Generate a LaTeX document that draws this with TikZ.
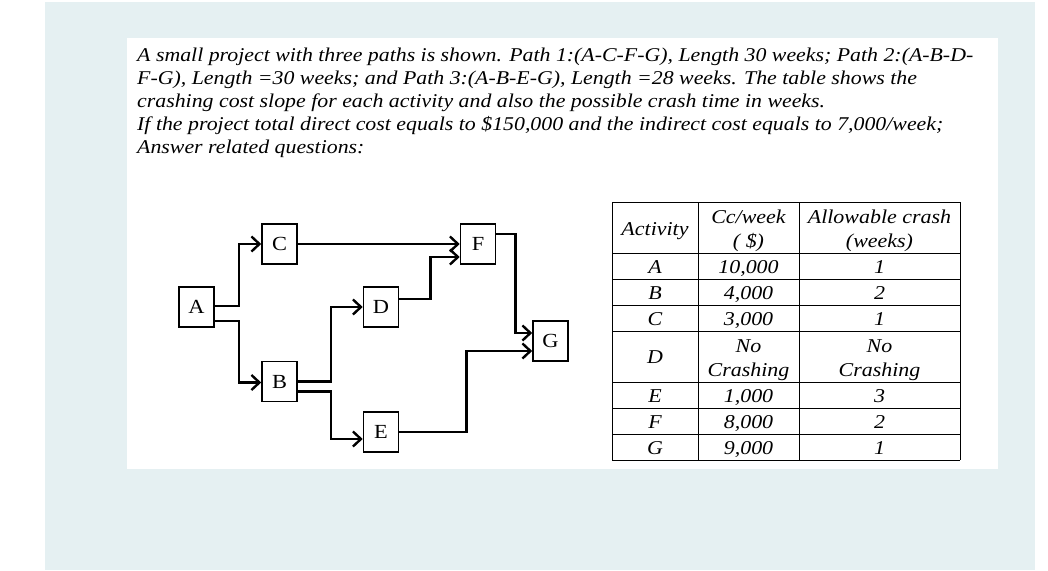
\documentclass[tikz,border=0pt]{standalone}
\usepackage{fontspec}
\setmainfont{Liberation Serif}[FakeStretch=1.12]
\usetikzlibrary{arrows.meta}
\definecolor{panelblue}{RGB}{229,240,242}
\begin{document}
\begin{tikzpicture}[x=1pt,y=-1pt,
 txt/.style={font=\fontsize{19.5}{23}\selectfont\itshape, inner sep=0pt, anchor=base west},
 cell/.style={font=\fontsize{19.6}{24}\selectfont\itshape, inner sep=0pt, anchor=base},
 act/.style={draw, line width=1.6pt, minimum width=35pt, minimum height=40pt, inner sep=0pt, font=\fontsize{20}{22}\selectfont},
 arr/.style={line width=2.6pt, -{Straight Barb[length=8pt,width=15pt,line width=2.4pt]}},
 grid/.style={line width=1pt}]
\useasboundingbox (0,0) rectangle (1048,570);
\fill[white] (0,0) rectangle (1048,570);
\fill[panelblue] (45,2) rectangle (1035,570);
\fill[white] (127,38) rectangle (998,469);
% text
\node[txt] (l1) at (137,61) {A small project with three paths is shown. Path 1:(A-C-F-G), Length 30 weeks; Path 2:(A-B-D-};
\node[txt] (l2) at (137,84) {F-G), Length =30 weeks; and Path 3:(A-B-E-G), Length =28 weeks. The table shows the};
\node[txt] (l3) at (137,107) {crashing cost slope for each activity and also the possible crash time in weeks.};
\node[txt] (l4) at (137,130) {If the project total direct cost equals to \$150,000 and the indirect cost equals to 7,000/week;};
\node[txt] (l5) at (137,153) {Answer related questions:};
% network
\node[act] (A) at (196.5,307) {A};
\node[act] (C) at (279.5,244) {C};
\node[act] (B) at (279.5,381.5) {B};
\node[act] (D) at (381,307) {D};
\node[act] (E) at (381,432) {E};
\node[act] (F) at (478,244) {F};
\node[act] (G) at (550.5,341) {G};
\draw[arr] ([yshift=1pt]A.east) -- ++(24,0) |- (C.west);
\draw[arr] ([yshift=-14pt]A.east) -- ++(24,0) |- ([yshift=-1pt]B.west);
\draw[arr] (C.east) -- (F.west);
\draw[arr] (B.east) -- ++(33,0) |- (D.west);
\draw[arr] ([yshift=-10pt]B.east) -- ++(33,0) |- ([yshift=-7pt]E.west);
\draw[arr] ([yshift=8pt]D.east) -- ++(31,0) |- ([yshift=-13pt]F.west);
\draw[arr] ([yshift=10pt]F.east) -- ++(19,0) |- ([yshift=8pt]G.west);
\draw[arr] (E.east) -- ++(67,0) |- ([yshift=-10pt]G.west);
% table grid
\foreach \yy in {202,253,279,305,331,382,408,434,460}
  \draw[grid] (612,\yy) -- (960,\yy);
\foreach \xx in {612,698,799,960}
  \draw[grid] (\xx,202) -- (\xx,460);
% header
\node[cell] (hact) at (655,235) {Activity};
\node[cell] (hcc1) at (748.5,223) {Cc/week};
\node[cell] (hcc2) at (748.5,247) {( \$)};
\node[cell] (hal1) at (879.5,223) {Allowable crash};
\node[cell] (hal2) at (879.5,247) {(weeks)};
% rows
\node[cell] (ra) at (655,273) {A};
\node[cell] (ca) at (748.5,273) {10,000};
\node[cell] (wa) at (879.5,273) {1};
\node[cell] (rb) at (655,299) {B};
\node[cell] (cb) at (748.5,299) {4,000};
\node[cell] (wb) at (879.5,299) {2};
\node[cell] (rc) at (655,325) {C};
\node[cell] (cc) at (748.5,325) {3,000};
\node[cell] (wc) at (879.5,325) {1};
\node[cell] (rd) at (655,363) {D};
\node[cell] (cd1) at (748.5,352) {No};
\node[cell] (cd2) at (748.5,376) {Crashing};
\node[cell] (wd1) at (879.5,352) {No};
\node[cell] (wd2) at (879.5,376) {Crashing};
\node[cell] (re) at (655,402) {E};
\node[cell] (ce) at (748.5,402) {1,000};
\node[cell] (we) at (879.5,402) {3};
\node[cell] (rf) at (655,428) {F};
\node[cell] (cf) at (748.5,428) {8,000};
\node[cell] (wf) at (879.5,428) {2};
\node[cell] (rg) at (655,454) {G};
\node[cell] (cg) at (748.5,454) {9,000};
\node[cell] (wg) at (879.5,454) {1};
\end{tikzpicture}
\end{document}
